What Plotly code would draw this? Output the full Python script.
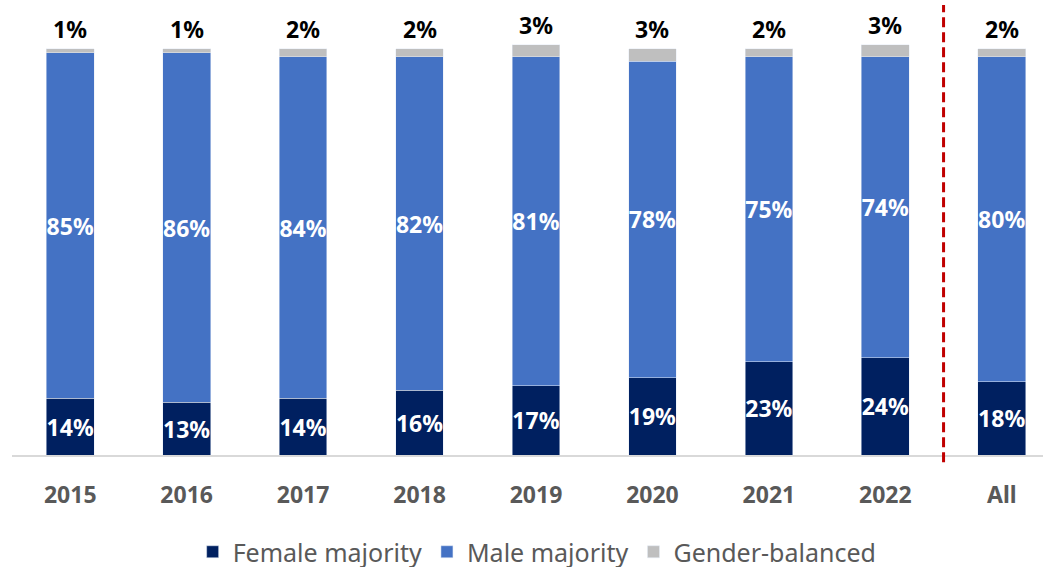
import plotly.graph_objects as go

# Share of groups by gender composition, per year and overall
categories = ["2015", "2016", "2017", "2018", "2019", "2020", "2021", "2022", "All"]
female_majority = [14, 13, 14, 16, 17, 19, 23, 24, 18]
male_majority = [85, 86, 84, 82, 81, 78, 75, 74, 80]
gender_balanced = [1, 1, 2, 2, 3, 3, 2, 3, 2]

C_FEMALE = "#002060"
C_MALE = "#4472C4"
C_BAL = "#BFBFBF"
FONT = "Noto Sans"

x = list(range(len(categories)))
x_range = [-0.5, 8.354]
plot_left = 12

fig = go.Figure()

inside_font = dict(family=FONT, size=23, color="white", weight="bold")
fig.add_trace(go.Bar(
    x=x, y=female_majority, name="Female majority", marker_color=C_FEMALE,
    text=[f"{v}%" for v in female_majority], textposition="inside",
    insidetextanchor="middle", textangle=0, constraintext="none",
    textfont=inside_font, width=0.41,
))
fig.add_trace(go.Bar(
    x=x, y=male_majority, name="Male majority", marker_color=C_MALE,
    text=[f"{v}%" for v in male_majority], textposition="inside",
    insidetextanchor="middle", textangle=0, constraintext="none",
    textfont=inside_font, width=0.41,
))
fig.add_trace(go.Bar(
    x=x, y=gender_balanced, name="Gender-balanced", marker_color=C_BAL,
    textposition="none", width=0.41,
))

# Balanced share labelled above each stack
totals = [f + m + b for f, m, b in zip(female_majority, male_majority, gender_balanced)]
for xi, top, val in zip(x, totals, gender_balanced):
    fig.add_annotation(
        x=xi, y=top, text=f"{val}%", showarrow=False,
        yanchor="bottom", yshift=2,
        font=dict(family=FONT, size=23, color="black", weight="bold"),
    )

# Dashed separator between yearly bars and the overall bar
sep_paper = (7.5 - x_range[0]) / (x_range[1] - x_range[0])
fig.add_shape(type="line", xref="paper", yref="paper",
              x0=sep_paper, x1=sep_paper, y0=-0.016, y1=1.0,
              line=dict(color="#C00000", width=3, dash="10px,5px"))

fig.update_layout(
    width=1043, height=567,
    margin=dict(l=plot_left, r=0, t=5, b=112, autoexpand=False),
    barmode="stack",
    plot_bgcolor="white", paper_bgcolor="white",
    showlegend=True,
    legend=dict(orientation="h", xref="container", x=0.515, xanchor="center",
                yref="container", y=1 - 552 / 567, yanchor="middle",
                font=dict(family=FONT, size=25, color="#595959"),
                itemwidth=30, traceorder="normal"),
    xaxis=dict(
        tickmode="array", tickvals=x, ticktext=categories, range=x_range,
        showline=True, linecolor="#D9D9D9", linewidth=1.5,
        ticks="outside", ticklen=19, tickcolor="rgba(0,0,0,0)",
        tickfont=dict(family=FONT, size=23, color="#595959", weight="bold"),
        showgrid=False, zeroline=False, automargin=False,
    ),
    yaxis=dict(range=[0, 110.8], visible=False, showgrid=False, zeroline=False),
)

fig.write_html("out.html")
